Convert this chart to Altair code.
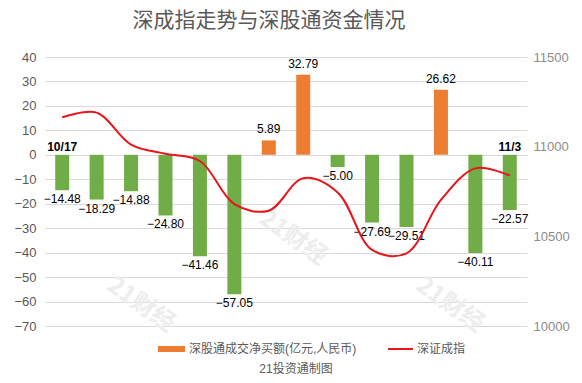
import altair as alt
import pandas as pd

# ---- data ----
dates = ["10/17", "10/18", "10/19", "10/20", "10/23", "10/24", "10/25",
         "10/26", "10/27", "10/30", "10/31", "11/1", "11/2", "11/3"]
net_buy = [-14.48, -18.29, -14.88, -24.80, -41.46, -57.05, 5.89,
           32.79, -5.00, -27.69, -29.51, 26.62, -40.11, -22.57]
sz_index = [11164, 11190, 11012, 10960, 10920, 10680, 10643,
            10824, 10745, 10424, 10405, 10703, 10879, 10839]

title_text = "深成指走势与深股通资金情况"
legend_bar = "深股通成交净买额(亿元,人民币)"
legend_line = "深证成指"
source_text = "21投资通制图"
watermark = "21财经"

df = pd.DataFrame({"date": dates, "net": net_buy, "sz": sz_index})
df["zero"] = 0
df["tag"] = ""
df.loc[0, "tag"] = dates[0]
df.loc[len(df) - 1, "tag"] = dates[-1]

FONT = "Liberation Sans, Noto Sans CJK SC, sans-serif"
GREEN = "#70ad47"
ORANGE = "#ed7d31"
RED = "#e8151b"

x_enc = alt.X("date:N", sort=None, axis=None,
              scale=alt.Scale(paddingInner=0, paddingOuter=0))
left_scale = alt.Scale(domain=[-70, 40], nice=False, zero=False)
left_axis = alt.Axis(values=list(range(-70, 41, 10)), grid=True, gridColor="#d9d9d9",
                     domain=False, ticks=False, title=None, labelPadding=9,
                     labelFontSize=13, labelColor="#595959", labelFont=FONT)

base = alt.Chart(df)

bars = base.mark_bar(size=14).encode(
    x=x_enc,
    y=alt.Y("net:Q", scale=left_scale, axis=left_axis),
    y2=alt.Y2("zero:Q"),
    color=alt.condition("datum.net >= 0", alt.value(ORANGE), alt.value(GREEN)),
)

neg_labels = base.transform_filter("datum.net < 0").mark_text(
    baseline="top", dy=4, fontSize=12, font=FONT, color="#000000"
).encode(x=x_enc, y=alt.Y("net:Q", scale=left_scale, axis=left_axis),
         text=alt.Text("net:Q", format=".2f"))

pos_labels = base.transform_filter("datum.net >= 0").mark_text(
    baseline="bottom", dy=-4, fontSize=12, font=FONT, color="#000000"
).encode(x=x_enc, y=alt.Y("net:Q", scale=left_scale, axis=left_axis),
         text=alt.Text("net:Q", format=".2f"))

date_labels = base.transform_filter("datum.tag != ''").mark_text(
    baseline="bottom", dy=-1, fontSize=12, fontWeight="bold", font=FONT, color="#000000"
).encode(x=x_enc, y=alt.Y("zero:Q", scale=left_scale, axis=left_axis),
         text="tag:N")

one = pd.DataFrame({"k": [0]})

title = alt.Chart(one).mark_text(
    text=title_text, fontSize=21, font="Noto Sans CJK SC", color="#595959",
    align="center", baseline="middle"
).encode(x=alt.value(224), y=alt.value(-36))

wm_pos = [(248, 181), (96, 248), (405, 248)]
watermarks = [
    alt.Chart(one).mark_text(
        text=watermark, fontSize=24, fontWeight="bold", font="Noto Sans CJK SC",
        color="#ededed", angle=35, align="center", baseline="middle"
    ).encode(x=alt.value(px), y=alt.value(py))
    for px, py in wm_pos
]

leg_rect = alt.Chart(one).mark_rect(color=ORANGE).encode(
    x=alt.value(113), x2=alt.value(140), y=alt.value(289), y2=alt.value(295))
leg_rect_text = alt.Chart(one).mark_text(
    text=legend_bar, fontSize=12, font=FONT, color="#595959", align="left", baseline="middle"
).encode(x=alt.value(144), y=alt.value(292))
leg_line = alt.Chart(one).mark_rule(color=RED, strokeWidth=2).encode(
    x=alt.value(343), x2=alt.value(368), y=alt.value(292))
leg_line_text = alt.Chart(one).mark_text(
    text=legend_line, fontSize=12, font=FONT, color="#595959", align="left", baseline="middle"
).encode(x=alt.value(372), y=alt.value(292))
source = alt.Chart(one).mark_text(
    text=source_text, fontSize=12, font=FONT, color="#595959", align="center", baseline="middle"
).encode(x=alt.value(251), y=alt.value(312))

left_layer = alt.layer(*watermarks, bars, neg_labels, pos_labels, date_labels,
                       title, leg_rect, leg_rect_text, leg_line, leg_line_text, source)

line = base.mark_line(color=RED, strokeWidth=2, interpolate="catmull-rom").encode(
    x=x_enc,
    y=alt.Y("sz:Q", scale=alt.Scale(domain=[10000, 11500], nice=False, zero=False),
            axis=alt.Axis(orient="right", values=[10000, 10500, 11000, 11500], grid=False,
                          domain=False, ticks=False, title=None, labelPadding=6,
                          labelFontSize=13, labelColor="#8c8c8c", labelFont=FONT, format="d")),
)

chart = alt.layer(left_layer, line).resolve_scale(y="independent").properties(
    width=482, height=269,
    padding={"left": 37, "top": 49, "right": 47, "bottom": 49},
    autosize=alt.AutoSizeParams(type="none"),
    background="#ffffff",
).configure_view(stroke=None)

chart.save("out.html", embed_options={"renderer": "svg", "actions": False})
